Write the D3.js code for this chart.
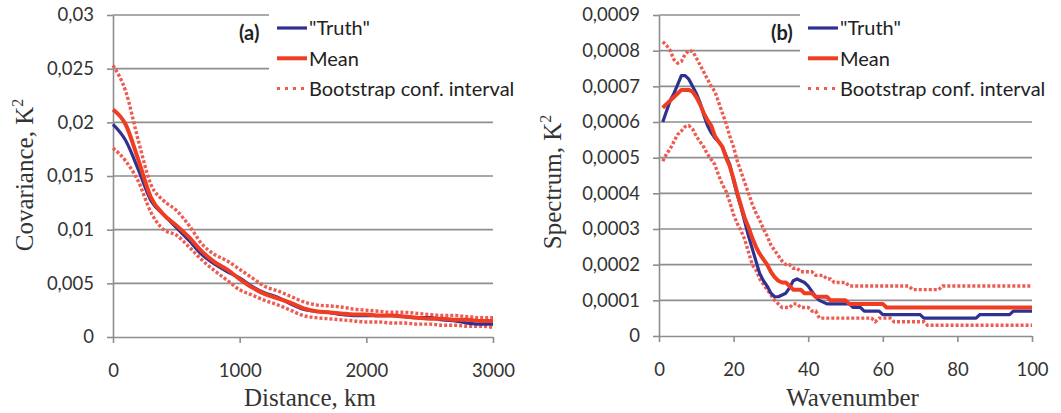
<!DOCTYPE html>
<html>
<head>
<meta charset="utf-8">
<script src="https://cdn.jsdelivr.net/npm/d3@7"></script>
<style>
  body { margin: 0; background: #fff; }
  svg { display: block; }
</style>
</head>
<body>
<svg id="chart"></svg>
<script>
const WIDTH = 1061;
const HEIGHT = 413;

// ---- panel (a): covariance vs distance, values in 1e-3 K^2 ----
const distanceKm = [0, 100, 200, 300, 400, 500, 600, 700, 800, 900, 1000,
  1100, 1200, 1300, 1400, 1500, 1600, 1700, 1800, 1900, 2000,
  2100, 2200, 2300, 2400, 2500, 2600, 2700, 2800, 2900, 3000];
const covTruth = [19.8, 18.3, 15.6, 12.7, 11.4, 10.2, 9.0, 7.7, 6.8, 6.1, 5.5,
  4.7, 4.1, 3.7, 3.1, 2.6, 2.4, 2.3, 2.1, 2.0, 2.0,
  2.0, 2.0, 1.9, 1.8, 1.8, 1.6, 1.5, 1.3, 1.2, 1.2];
const covMean = [21.2, 19.8, 16.5, 13.0, 11.4, 10.4, 9.3, 8.0, 7.0, 6.3, 5.4,
  4.6, 4.0, 3.6, 3.2, 2.7, 2.4, 2.3, 2.2, 2.1, 2.1,
  2.0, 2.0, 1.9, 1.8, 1.7, 1.7, 1.6, 1.6, 1.5, 1.5];
const covUpper = [25.3, 22.9, 18.3, 14.2, 12.7, 11.8, 10.4, 8.7, 7.7, 7.1, 6.3,
  5.5, 4.7, 4.3, 3.8, 3.3, 3.0, 2.9, 2.8, 2.6, 2.5,
  2.4, 2.3, 2.3, 2.2, 2.1, 2.0, 2.0, 1.9, 1.8, 1.8];
const covLower = [17.6, 16.4, 14.5, 11.6, 10.0, 9.5, 8.4, 7.2, 6.2, 5.3, 4.4,
  3.9, 3.4, 3.0, 2.5, 2.0, 1.8, 1.7, 1.6, 1.5, 1.4,
  1.4, 1.3, 1.3, 1.2, 1.2, 1.1, 1.1, 1.0, 1.0, 0.9];
const covYTicks = [0, 5, 10, 15, 20, 25, 30];
const covYLabels = ["0", "0,005", "0,01", "0,015", "0,02", "0,025", "0,03"];
const covXTicks = [0, 1000, 2000, 3000];

// ---- panel (b): spectrum vs wavenumber, values in 1e-4 K^2 ----
const wavenumber = d3.range(1, 101);
const specTruth = [6.0, 6.3, 6.6, 6.8, 7.05, 7.3, 7.3, 7.2, 7.0, 6.8,
  6.55, 6.2, 5.9, 5.7, 5.55, 5.45, 5.3, 5.05, 4.8, 4.35,
  3.95, 3.6, 3.2, 2.8, 2.45, 2.1, 1.75, 1.55, 1.4, 1.2,
  1.1, 1.1, 1.15, 1.2, 1.35, 1.55, 1.6, 1.55, 1.5, 1.4,
  1.25, 1.1, 1.0, 0.95, 0.9, 0.9, 0.9, 0.9, 0.9, 0.9,
  0.9, 0.8, 0.8, 0.8, 0.7, 0.7, 0.7, 0.7, 0.7, 0.6,
  0.6, 0.6, 0.6, 0.6, 0.6, 0.6, 0.6, 0.6, 0.6, 0.6,
  0.5, 0.5, 0.5, 0.5, 0.5, 0.5, 0.5, 0.5, 0.5, 0.5,
  0.5, 0.5, 0.5, 0.5, 0.5, 0.6, 0.6, 0.6, 0.6, 0.6,
  0.6, 0.6, 0.6, 0.6, 0.7, 0.7, 0.7, 0.7, 0.7, 0.7];
const specMean = [6.4, 6.5, 6.6, 6.7, 6.8, 6.9, 6.9, 6.9, 6.85, 6.7,
  6.5, 6.25, 6.05, 5.9, 5.6, 5.45, 5.3, 5.0, 4.75, 4.4,
  4.0, 3.65, 3.3, 3.05, 2.75, 2.5, 2.3, 2.15, 2.0, 1.8,
  1.65, 1.55, 1.5, 1.5, 1.4, 1.3, 1.3, 1.3, 1.2, 1.2,
  1.2, 1.1, 1.1, 1.1, 1.1, 1.0, 1.0, 1.0, 1.0, 1.0,
  0.9, 0.9, 0.9, 0.9, 0.9, 0.9, 0.9, 0.9, 0.9, 0.9,
  0.8, 0.8, 0.8, 0.8, 0.8, 0.8, 0.8, 0.8, 0.8, 0.8,
  0.8, 0.8, 0.8, 0.8, 0.8, 0.8, 0.8, 0.8, 0.8, 0.8,
  0.8, 0.8, 0.8, 0.8, 0.8, 0.8, 0.8, 0.8, 0.8, 0.8,
  0.8, 0.8, 0.8, 0.8, 0.8, 0.8, 0.8, 0.8, 0.8, 0.8];
const specUpper = [8.25, 8.15, 8.0, 7.75, 7.65, 7.7, 7.9, 8.0, 7.98, 7.8,
  7.6, 7.4, 7.2, 7.0, 6.85, 6.55, 6.25, 5.95, 5.6, 5.3,
  4.9, 4.6, 4.3, 4.0, 3.7, 3.45, 3.25, 3.0, 2.8, 2.55,
  2.4, 2.25, 2.1, 2.0, 2.0, 1.9, 1.9, 1.8, 1.8, 1.8,
  1.8, 1.7, 1.7, 1.7, 1.6, 1.6, 1.5, 1.5, 1.5, 1.5,
  1.4, 1.4, 1.4, 1.4, 1.4, 1.4, 1.4, 1.4, 1.4, 1.4,
  1.4, 1.4, 1.4, 1.4, 1.4, 1.4, 1.4, 1.3, 1.3, 1.3,
  1.3, 1.3, 1.3, 1.3, 1.3, 1.4, 1.4, 1.4, 1.4, 1.4,
  1.4, 1.4, 1.4, 1.4, 1.4, 1.4, 1.4, 1.4, 1.4, 1.4,
  1.4, 1.4, 1.4, 1.4, 1.4, 1.4, 1.4, 1.4, 1.4, 1.4];
const specLower = [4.9, 5.1, 5.25, 5.45, 5.65, 5.75, 5.87, 5.9, 5.8, 5.6,
  5.45, 5.3, 5.1, 4.95, 4.8, 4.5, 4.25, 4.05, 3.75, 3.4,
  3.15, 2.95, 2.7, 2.35, 2.0, 1.85, 1.6, 1.45, 1.3, 1.15,
  1.0, 0.9, 0.8, 0.8, 0.8, 0.9, 0.9, 0.8, 0.8, 0.8,
  0.7, 0.7, 0.5, 0.5, 0.5, 0.5, 0.5, 0.5, 0.5, 0.5,
  0.5, 0.5, 0.5, 0.5, 0.5, 0.5, 0.5, 0.4, 0.5, 0.5,
  0.5, 0.5, 0.4, 0.4, 0.4, 0.4, 0.4, 0.4, 0.4, 0.4,
  0.4, 0.3, 0.3, 0.3, 0.3, 0.3, 0.3, 0.3, 0.3, 0.3,
  0.3, 0.3, 0.3, 0.3, 0.3, 0.3, 0.3, 0.3, 0.3, 0.3,
  0.3, 0.3, 0.3, 0.3, 0.3, 0.3, 0.3, 0.3, 0.3, 0.3];
const specYTicks = [0, 1, 2, 3, 4, 5, 6, 7, 8, 9];
const specYLabels = ["0", "0,0001", "0,0002", "0,0003", "0,0004", "0,0005",
  "0,0006", "0,0007", "0,0008", "0,0009"];
const specXTicks = [0, 20, 40, 60, 80, 100];

const legendNames = ["\"Truth\"", "Mean", "Bootstrap conf. interval"];

const BLUE = "#2e3192";
const RED = "#ef3d23";
const CI_RED = "#ee5b52";
const GRID = "#8e8e8e";

const svg = d3.select("#chart")
  .attr("width", WIDTH)
  .attr("height", HEIGHT);

function drawPanel(p) {
  const x = d3.scaleLinear().domain(p.xDomain).range([p.left, p.right]);
  const y = d3.scaleLinear().domain(p.yDomain).range([p.bottom, p.top]);
  const g = svg.append("g");

  // gridlines
  g.append("g").selectAll("line")
    .data(p.yTicks.slice(1))
    .join("line")
    .attr("x1", p.left)
    .attr("x2", p.right)
    .attr("y1", d => y(d))
    .attr("y2", d => y(d))
    .attr("stroke", GRID)
    .attr("stroke-width", 1.6);

  // white legend box hides the upper gridlines
  g.append("rect")
    .attr("x", p.legendX - 8)
    .attr("y", 0)
    .attr("width", p.legendW)
    .attr("height", 100)
    .attr("fill", "#fff");

  const yAxis = g.append("g")
    .attr("transform", `translate(${p.left},0)`)
    .call(d3.axisLeft(y).tickValues(p.yTicks)
      .tickFormat((d, i) => p.yLabels[i])
      .tickSize(6).tickSizeOuter(0).tickPadding(13));
  const xAxis = g.append("g")
    .attr("transform", `translate(0,${p.bottom})`)
    .call(d3.axisBottom(x).tickValues(p.xTicks)
      .tickFormat(d3.format("d"))
      .tickSize(6).tickSizeOuter(0).tickPadding(21));
  [yAxis, xAxis].forEach(a => {
    a.selectAll("path, line").attr("stroke", GRID).attr("stroke-width", 1.6);
    a.selectAll("text")
      .attr("fill", "#333")
      .style("font-family", "Lato, 'Open Sans', sans-serif")
      .style("font-size", "18.5px");
  });

  // series
  const lineOf = vals => d3.line()
    .x((d, i) => x(p.xs[i]))
    .y(d => y(d))
    .curve(p.curve)(vals);

  [p.upper, p.lower].forEach(s => {
    g.append("path")
      .attr("d", lineOf(s))
      .attr("fill", "none")
      .attr("stroke", CI_RED)
      .attr("stroke-width", 3.4)
      .attr("stroke-dasharray", "3,2");
  });
  g.append("path")
    .attr("d", lineOf(p.truth))
    .attr("fill", "none")
    .attr("stroke", BLUE)
    .attr("stroke-width", 3.2)
    .attr("stroke-linejoin", "round");
  g.append("path")
    .attr("d", lineOf(p.mean))
    .attr("fill", "none")
    .attr("stroke", RED)
    .attr("stroke-width", 4)
    .attr("stroke-linejoin", "round");

  // axis titles
  g.append("text")
    .attr("x", (p.left + p.right) / 2 + 7)
    .attr("y", 406)
    .attr("text-anchor", "middle")
    .attr("fill", "#333")
    .style("font-family", "'Liberation Serif', 'DejaVu Serif', serif")
    .style("font-size", "25px")
    .text(p.xTitle);
  const yt = g.append("text")
    .attr("transform", `translate(${p.yTitleX},${p.yTitleY}) rotate(-90)`)
    .attr("text-anchor", "middle")
    .attr("fill", "#333")
    .style("font-family", "'Liberation Serif', 'DejaVu Serif', serif")
    .style("font-size", "25px");
  yt.append("tspan").text(p.yTitle);
  yt.append("tspan").attr("dy", -10).style("font-size", "16px").text("2");

  // legend
  const leg = g.append("g")
    .style("font-family", "Lato, 'Open Sans', sans-serif");
  leg.append("text")
    .attr("x", p.letterX)
    .attr("y", 40)
    .style("font-size", "20px")
    .style("font-weight", "bold")
    .attr("fill", "#222")
    .text(p.letter);
  const rows = [
    { name: legendNames[0], color: BLUE, width: 3.2, dash: null },
    { name: legendNames[1], color: RED, width: 4, dash: null },
    { name: legendNames[2], color: CI_RED, width: 3, dash: "3,5" }
  ];
  rows.forEach((r, i) => {
    const yy = 28 + i * 30.3;
    leg.append("line")
      .attr("x1", p.legendX)
      .attr("x2", p.legendX + 30)
      .attr("y1", yy)
      .attr("y2", yy)
      .attr("stroke", r.color)
      .attr("stroke-width", r.width)
      .attr("stroke-dasharray", r.dash);
    leg.append("text")
      .attr("x", p.legendX + 32)
      .attr("y", yy)
      .attr("dy", "0.36em")
      .style("font-size", "20px")
      .attr("fill", "#222")
      .text(r.name);
  });
}

drawPanel({
  xDomain: [0, 3000], yDomain: [0, 30],
  left: 113, right: 493, top: 15, bottom: 337,
  xs: distanceKm, truth: covTruth, mean: covMean, upper: covUpper, lower: covLower,
  curve: d3.curveMonotoneX,
  yTicks: covYTicks, yLabels: covYLabels, xTicks: covXTicks,
  xTitle: "Distance, km", yTitle: "Covariance, K",
  yTitleX: 33, yTitleY: 175,
  legendX: 277, legendW: 260, letterX: 239, letter: "(a)"
});

drawPanel({
  xDomain: [0, 100], yDomain: [0, 9],
  left: 659, right: 1032, top: 15, bottom: 336,
  xs: wavenumber, truth: specTruth, mean: specMean, upper: specUpper, lower: specLower,
  curve: d3.curveLinear,
  yTicks: specYTicks, yLabels: specYLabels, xTicks: specXTicks,
  xTitle: "Wavenumber", yTitle: "Spectrum, K",
  yTitleX: 561, yTitleY: 182,
  legendX: 808, legendW: 260, letterX: 771, letter: "(b)"
});
</script>
</body>
</html>
